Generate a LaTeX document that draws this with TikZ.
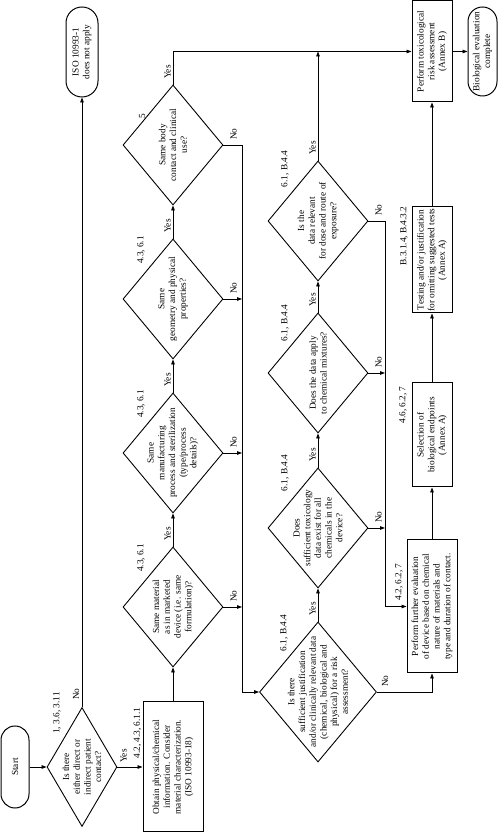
\documentclass[tikz,border=0pt]{standalone}
\usepackage{fontspec}
\setmainfont{Liberation Serif}
\usetikzlibrary{shapes.geometric,shapes.misc,arrows.meta}
\begin{document}
\begin{tikzpicture}[x=1pt,y=1pt]
\begin{scope}[rotate=90,transform shape,
  every node/.style={font=\fontsize{9.3}{10.7}\selectfont, align=center, inner sep=0pt},
  term/.style={rounded rectangle, draw, line width=1pt},
  pbox/.style={rectangle, draw, line width=1pt},
  dia/.style={diamond, draw, line width=0.9pt},
  arr/.style={-{Triangle[length=5pt,width=3.6pt]}, line width=0.8pt},
  ln/.style={line width=0.8pt}]
\fill[white] (0,0) rectangle (836,-498);
\useasboundingbox (0,0) rectangle (836,-498);
% terminals and boxes
\node[term, minimum width=82pt, minimum height=28pt] (start) at (69,-15) {Start};
\node[term, minimum width=90pt, minimum height=32pt] (iso) at (784,-82) {ISO 10993-1\\does not apply};
\node[pbox, minimum width=130pt, minimum height=60pt] (obtain) at (69,-173) {Obtain physical/chemical\\information. Consider\\material characterization.\\(ISO 10993-18)};
\node[pbox, minimum width=133pt, minimum height=50pt] (further) at (229.5,-432) {Perform further evaluation\\of device based on chemical\\nature of materials and\\type and duration of contact.};
\node[pbox, minimum width=104pt, minimum height=40pt] (sel) at (401,-432) {Selection of\\biological endpoints\\(Annex A)};
\node[pbox, minimum width=106pt, minimum height=40pt] (test) at (576,-432) {Testing and/or justification\\for omitting suggested tests\\(Annex A)};
\node[pbox, minimum width=101pt, minimum height=40pt] (ptox) at (784.5,-432) {Perform toxicological\\risk assessment\\(Annex B)};
\node[term, minimum width=89pt, minimum height=29pt] (bio) at (784.5,-482.5) {Biological evaluation\\complete};
% diamonds
\node[dia, minimum width=119pt, minimum height=70pt] (d0) at (69,-82) {};
\node (d0t) at (d0) {Is there\\either direct or\\indirect patient\\contact?};
\node[dia, minimum width=120pt, minimum height=100pt] (d1) at (229,-173) {};
\node (d1t) at (d1) {Same material\\as in marketed\\device (i.e. same\\formulation)?};
\node[dia, minimum width=120pt, minimum height=100pt] (d2) at (383,-173) {};
\node (d2t) at (d2) {Same\\manufacturing\\process and sterilization\\(type/process\\details)?};
\node[dia, minimum width=120pt, minimum height=100pt] (d3) at (537,-173) {};
\node (d3t) at (d3) {Same\\geometry and physical\\properties?};
\node[dia, minimum width=120pt, minimum height=100pt] (d4) at (691,-173) {};
\node (d4t) at (d4) {Same body\\contact and clinical\\use?};
\node[dia, minimum width=140pt, minimum height=117pt] (d5) at (144,-318) {};
\node (d5t) at (d5) {Is there\\sufficient justification\\and/or clinically relevant data\\(chemical, biological and\\physical) for a risk\\assessment?};
\node[dia, minimum width=120pt, minimum height=100pt] (d6) at (308,-318) {};
\node (d6t) at (d6) {Does\\sufficient toxicology\\data exist for all\\chemicals in the\\device?};
\node[dia, minimum width=120pt, minimum height=100pt] (d7) at (463,-318) {};
\node (d7t) at (d7) {Does the data apply\\to chemical mixtures?};
\node[dia, minimum width=120pt, minimum height=100pt] (d8) at (615,-318) {};
\node (d8t) at (d8) {Is the\\data relevant\\for dose and route of\\exposure?};
% corridors
\coordinate (c1) at (0,-242);
\coordinate (c2) at (0,-385);
% connectors
\draw[arr] (start.south) -- (d0.north);
\draw[arr] (d0.east) -- (d0.east -| iso.west);
\draw[arr] (d0.south) -- (d0.south |- obtain.north);
\draw[arr] (obtain.east) -- (d1.west);
\draw[arr] (d1.east) -- (d2.west);
\draw[arr] (d2.east) -- (d3.west);
\draw[arr] (d3.east) -- (d4.west);
\draw[arr] (d4.east) -| (ptox.north);
\draw[arr] (d1.south) -- (d1.south |- c1);
\draw[arr] (d2.south) -- (d2.south |- c1);
\draw[arr] (d3.south) -- (d3.south |- c1);
\draw[arr] (d4.south) -- (d4.south |- c1) -| (d5.north);
\draw[arr] (d5.east) -- (d6.west);
\draw[arr] (d6.east) -- (d7.west);
\draw[arr] (d7.east) -- (d8.west);
\draw[arr] (d8.east) -- (d8.east -| ptox.north);
\draw[arr] (d6.south) -- (d6.south |- c2);
\draw[arr] (d7.south) -- (d7.south |- c2);
\draw[arr] (d8.south) -- (d8.south |- c2) -| (further.north);
\draw[arr] (d5.south) |- (further.west);
\draw[arr] (further.east) -- (sel.west);
\draw[arr] (sel.east) -- (test.west);
\draw[arr] (test.east) -- (ptox.west);
\draw[arr] (ptox.south) -- (ptox.south |- bio.north);
% Yes / No labels
\node[anchor=west] (y0) at (73,-123.5) {Yes};
\node[anchor=south west] (n0) at (136,-79.5) {No};
\node[anchor=south west] (y1) at (295,-171) {Yes};
\node[anchor=south west] (y2) at (449,-171) {Yes};
\node[anchor=south west] (y3) at (603,-171) {Yes};
\node[anchor=south west] (y4) at (757,-171) {Yes};
\node[anchor=west] (n1) at (234,-233.5) {No};
\node[anchor=west] (n2) at (388,-233.5) {No};
\node[anchor=west] (n3) at (542,-233.5) {No};
\node[anchor=west] (n4) at (696,-233.5) {No};
\node[anchor=south west] (y5) at (220,-316) {Yes};
\node[anchor=south west] (y6) at (374,-316) {Yes};
\node[anchor=south west] (y7) at (529,-316) {Yes};
\node[anchor=south west] (y8) at (681,-316) {Yes};
\node[anchor=west] (n5) at (149,-385) {No};
\node[anchor=west] (n6) at (313,-378.5) {No};
\node[anchor=west] (n7) at (468,-378.5) {No};
\node[anchor=west] (n8) at (620,-378.5) {No};
% clause references
\node (r0) at (123,-57) {1, 3.6, 3.11};
\node (r1) at (103,-137.5) {4.2, 4.3, 6.1.1};
\node (r2) at (278,-141) {4.3, 6.1};
\node (r3) at (432,-141) {4.3, 6.1};
\node (r4) at (586,-141) {4.3, 6.1};
\node (r5) at (720,-142) {5};
\node (r6) at (203,-284) {6.1, B.4.4};
\node (r7) at (363,-285) {6.1, B.4.4};
\node (r8) at (513,-285) {6.1, B.4.4};
\node (r9) at (667,-285) {6.1, B.4.4};
\node (r10) at (254,-399) {4.2, 6.2, 7};
\node (r11) at (431,-403) {4.6, 6.2, 7};
\node (r12) at (600,-404) {B.3.1.4, B.4.3.2};
\end{scope}
\end{tikzpicture}
\end{document}
